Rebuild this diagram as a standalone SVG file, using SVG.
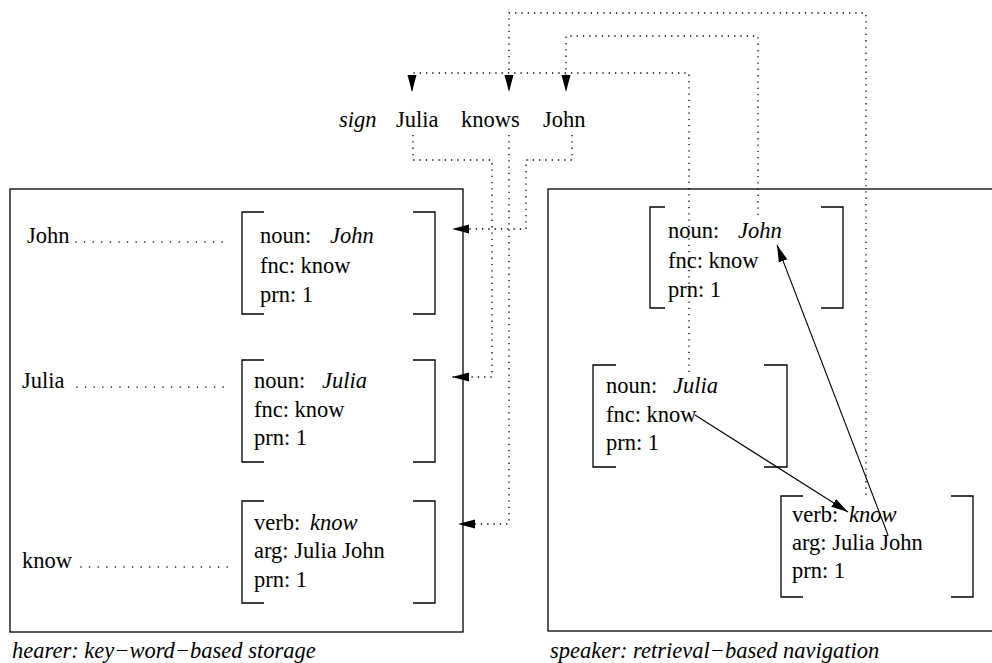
<svg xmlns="http://www.w3.org/2000/svg" width="992" height="663" viewBox="0 0 992 663">
<style>
text{font-family:"Liberation Serif","Times New Roman","DejaVu Serif",serif;font-size:22.5px;fill:#000}
.it{font-style:italic}
.frame{fill:none;stroke:#000;stroke-width:1.3}
.br{fill:none;stroke:#000;stroke-width:1.3}
.dot{fill:none;stroke:#000;stroke-width:1.3;stroke-dasharray:1.3 5}
.lead{fill:none;stroke:#000;stroke-width:1.6;stroke-linecap:round;stroke-dasharray:0 8.6}
.sol{fill:none;stroke:#000;stroke-width:1.1}
</style>
<defs>
<marker id="ah" markerUnits="userSpaceOnUse" markerWidth="18" markerHeight="10" refX="17" refY="5" orient="auto">
<path d="M0,0.5 L17,5 L0,9.5 z" fill="#000"/>
</marker>
</defs>

<g id="hearer">
<rect class="frame" x="10" y="189" width="453" height="443"/>
<text class="it" x="12" y="658">hearer: key−word−based storage</text>
</g>
<g id="speaker">
<rect class="frame" x="548" y="189" width="460" height="442"/>
<text class="it" x="550" y="658">speaker: retrieval−based navigation</text>
</g>

<g id="sign">
<text class="it" x="339" y="127">sign</text>
<text x="396" y="127">Julia</text>
<text x="461" y="127">knows</text>
<text x="543" y="127">John</text>
</g>

<g id="key-john">
<text x="27" y="243">John</text>
<line class="lead" x1="76" y1="242" x2="230" y2="242"/>
</g>
<g id="key-julia">
<text x="22" y="388">Julia</text>
<line class="lead" x1="77" y1="387" x2="230" y2="387"/>
</g>
<g id="key-know">
<text x="22" y="568">know</text>
<line class="lead" x1="81" y1="567" x2="230" y2="567"/>
</g>

<g id="h-john">
<path class="br" d="M264,212 H242 V314 H264 M413,212 H435 V314 H413"/>
<text x="260" y="243">noun:</text><text class="it" x="330" y="243">John</text>
<text x="260" y="273">fnc: know</text>
<text x="260" y="302">prn: 1</text>
</g>
<g id="h-julia">
<path class="br" d="M264,360 H242 V462 H264 M413,360 H435 V462 H413"/>
<text x="254" y="388">noun:</text><text class="it" x="322" y="388">Julia</text>
<text x="254" y="417">fnc: know</text>
<text x="254" y="445">prn: 1</text>
</g>
<g id="h-know">
<path class="br" d="M264,501 H242 V603 H264 M413,501 H435 V603 H413"/>
<text x="254" y="530">verb:</text><text class="it" x="310" y="530">know</text>
<text x="254" y="558">arg: Julia John</text>
<text x="254" y="587">prn: 1</text>
</g>

<g id="s-john">
<path class="br" d="M665,207 H650 V308 H665 M821,207 H843 V308 H821"/>
<text x="668" y="238">noun:</text><text class="it" x="738" y="238">John</text>
<text x="668" y="268">fnc: know</text>
<text x="668" y="297">prn: 1</text>
</g>
<g id="s-julia">
<path class="br" d="M616,365 H593 V467 H616 M764,365 H787 V467 H764"/>
<text x="606" y="393">noun:</text><text class="it" x="673" y="393">Julia</text>
<text x="606" y="422">fnc: know</text>
<text x="606" y="450">prn: 1</text>
</g>
<g id="s-know">
<path class="br" d="M803,496 H781 V597 H803 M951,496 H973 V597 H951"/>
<text x="792" y="522">verb:</text><text class="it" x="849" y="522">know</text>
<text x="792" y="550">arg: Julia John</text>
<text x="792" y="578">prn: 1</text>
</g>

<g id="connectors">
<path class="dot" d="M866,495 V13 H509 V92" marker-end="url(#ah)"/>
<path class="dot" d="M758,215 V36 H566 V92" marker-end="url(#ah)"/>
<path class="dot" d="M689,372 V73 H412 V92" marker-end="url(#ah)"/>
<path class="dot" d="M413,135 V160 H492 V377 H452" marker-end="url(#ah)"/>
<path class="dot" d="M509,135 V524 H458" marker-end="url(#ah)"/>
<path class="dot" d="M572,135 V160 H526 V229 H452" marker-end="url(#ah)"/>
<path class="sol" d="M695,415 L848,512" marker-end="url(#ah)"/>
<path class="sol" d="M888,535 L777,245" marker-end="url(#ah)"/>
</g>
</svg>
